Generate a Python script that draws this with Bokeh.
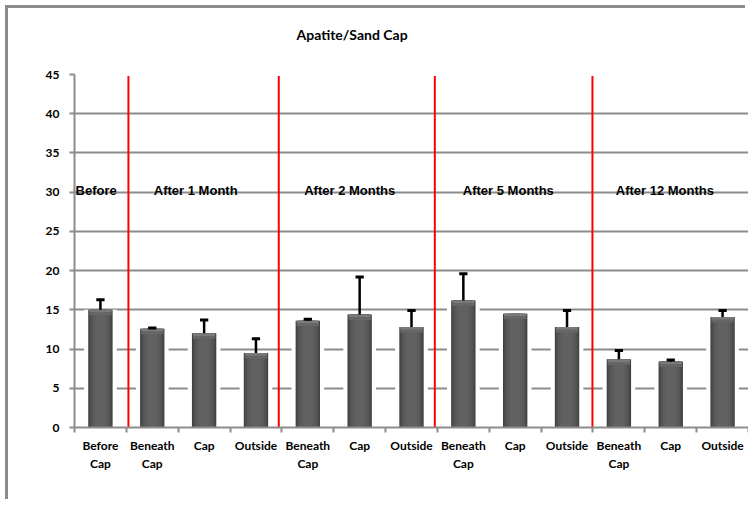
from bokeh.plotting import figure
from bokeh.models import FixedTicker, Range1d, ColumnDataSource
from bokeh.core.properties import value
from bokeh.embed import file_html
from bokeh.resources import INLINE

# ---- data ----
categories = ["Before\nCap", "Beneath\nCap", "Cap", "Outside",
              "Beneath\nCap", "Cap", "Outside",
              "Beneath\nCap", "Cap", "Outside",
              "Beneath\nCap", "Cap", "Outside"]
means = [15.0, 12.6, 12.0, 9.5, 13.6, 14.4, 12.8, 16.2, 14.5, 12.8, 8.7, 8.4, 14.1]
errors = [1.3, 0.1, 1.7, 1.8, 0.2, 4.8, 2.1, 3.4, 0.0, 2.1, 1.1, 0.2, 0.8]
groups = ["Before", "After 1 Month", "After 2 Months", "After 5 Months", "After 12 Months"]
group_label_x = [0.02, 1.53, 4.43, 7.49, 10.44]
group_label_y = [30.2, 30.2, 30.2, 30.2, 30.2]
separators = [1.04, 3.94, 6.95, 9.99]
y_ticks = [0, 5, 10, 15, 20, 25, 30, 35, 40, 45]
title_text = "Apatite/Sand Cap"

n = len(categories)
centers = [i + 0.5 for i in range(n)]
boundaries = [float(i) for i in range(n + 1)]

GRID = "#8c8c8c"

p = figure(width=740, height=494, output_backend="svg", toolbar_location=None,
           x_range=Range1d(0, n), y_range=Range1d(0, 45),
           min_border_left=66, min_border_right=0, min_border_top=66,
           min_border_bottom=75, background_fill_color="white",
           border_fill_color="white", outline_line_color=None)
p.styles = {"margin": "8px 0px 0px 8px", "box-shadow": "-3px -3px 0px 0px #8c8c8c"}

# a blank second line lifts the title further above the plot area
p.title.text = title_text + "\n "
p.title.align = "left"
p.title.offset = 222
p.title.standoff = 30
p.title.text_font = "Lato"
p.title.text_font_style = "bold"
p.title.text_font_size = "14px"
p.title.text_color = "black"

# grid
p.xgrid.visible = False
p.ygrid.ticker = FixedTicker(ticks=y_ticks)
p.ygrid.grid_line_color = GRID
p.ygrid.grid_line_width = 2

# y axis
p.yaxis.ticker = FixedTicker(ticks=y_ticks)
p.yaxis.axis_line_color = GRID
p.yaxis.axis_line_width = 2
p.yaxis.major_tick_line_color = GRID
p.yaxis.major_tick_line_width = 2
p.yaxis.major_tick_out = 5
p.yaxis.major_tick_in = 0
p.yaxis.minor_tick_line_color = None
p.yaxis.major_label_text_font = "Lato"
p.yaxis.major_label_text_font_style = "bold"
p.yaxis.major_label_text_font_size = "12px"
p.yaxis.major_label_text_color = "black"
p.yaxis.major_label_standoff = 10

# x axis: labels at centers, ticks at boundaries
p.xaxis.ticker = FixedTicker(ticks=centers, minor_ticks=boundaries)
p.xaxis.major_label_overrides = {c: lab for c, lab in zip(centers, categories)}
p.xaxis.axis_line_color = GRID
p.xaxis.axis_line_width = 2
p.xaxis.major_tick_line_color = None
p.xaxis.major_tick_out = 5
p.xaxis.major_tick_in = 0
p.xaxis.minor_tick_line_color = GRID
p.xaxis.minor_tick_line_width = 2
p.xaxis.minor_tick_out = 5
p.xaxis.minor_tick_in = 0
p.xaxis.major_label_text_font = "Lato"
p.xaxis.major_label_text_font_style = "bold"
p.xaxis.major_label_text_font_size = "12px"
p.xaxis.major_label_text_color = "black"
p.xaxis.major_label_standoff = 5

src = ColumnDataSource(dict(x=centers, top=means))

# white glow hiding gridlines next to bars
p.vbar(x="x", top="top", bottom=0, width=0.63, source=src,
       fill_color="white", line_color=None)
# bar with simple horizontal shading
for w, c in [(0.47, "#404040"), (0.43, "#4b4b4b"), (0.37, "#555555"),
             (0.29, "#5c5c5c"), (0.19, "#616161")]:
    p.vbar(x="x", top="top", bottom=0, width=w, source=src,
           fill_color=c, line_color=None)

# rounded light top
p.vbar(x=centers, top=means, bottom=[m - 0.35 for m in means], width=0.43,
       fill_color="#7a7a7a", line_color=None)
p.vbar(x=centers, top=[m - 0.35 for m in means], bottom=[m - 0.7 for m in means],
       width=0.43, fill_color="#666666", line_color=None)

# error bars (upper only)
ex = [c for c, e in zip(centers, errors) if e > 0]
ey0 = [m for m, e in zip(means, errors) if e > 0]
ey1 = [m + e for m, e in zip(means, errors) if e > 0]
p.segment(x0=ex, y0=ey0, x1=ex, y1=ey1, line_color="black", line_width=2.5)
p.segment(x0=[x - 0.08 for x in ex], y0=ey1, x1=[x + 0.08 for x in ex], y1=ey1,
          line_color="black", line_width=3)

# red separators
p.segment(x0=separators, y0=[-1] * len(separators), x1=separators,
          y1=[44.8] * len(separators), line_color="#ff0000", line_width=2)

# group labels
p.text(x=group_label_x, y=group_label_y, text=groups,
       text_font=value("Liberation Sans"), text_font_style="bold",
       text_font_size="13px", text_color="black",
       text_align="left", text_baseline="alphabetic")

open("out.html", "w").write(file_html(p, INLINE))
